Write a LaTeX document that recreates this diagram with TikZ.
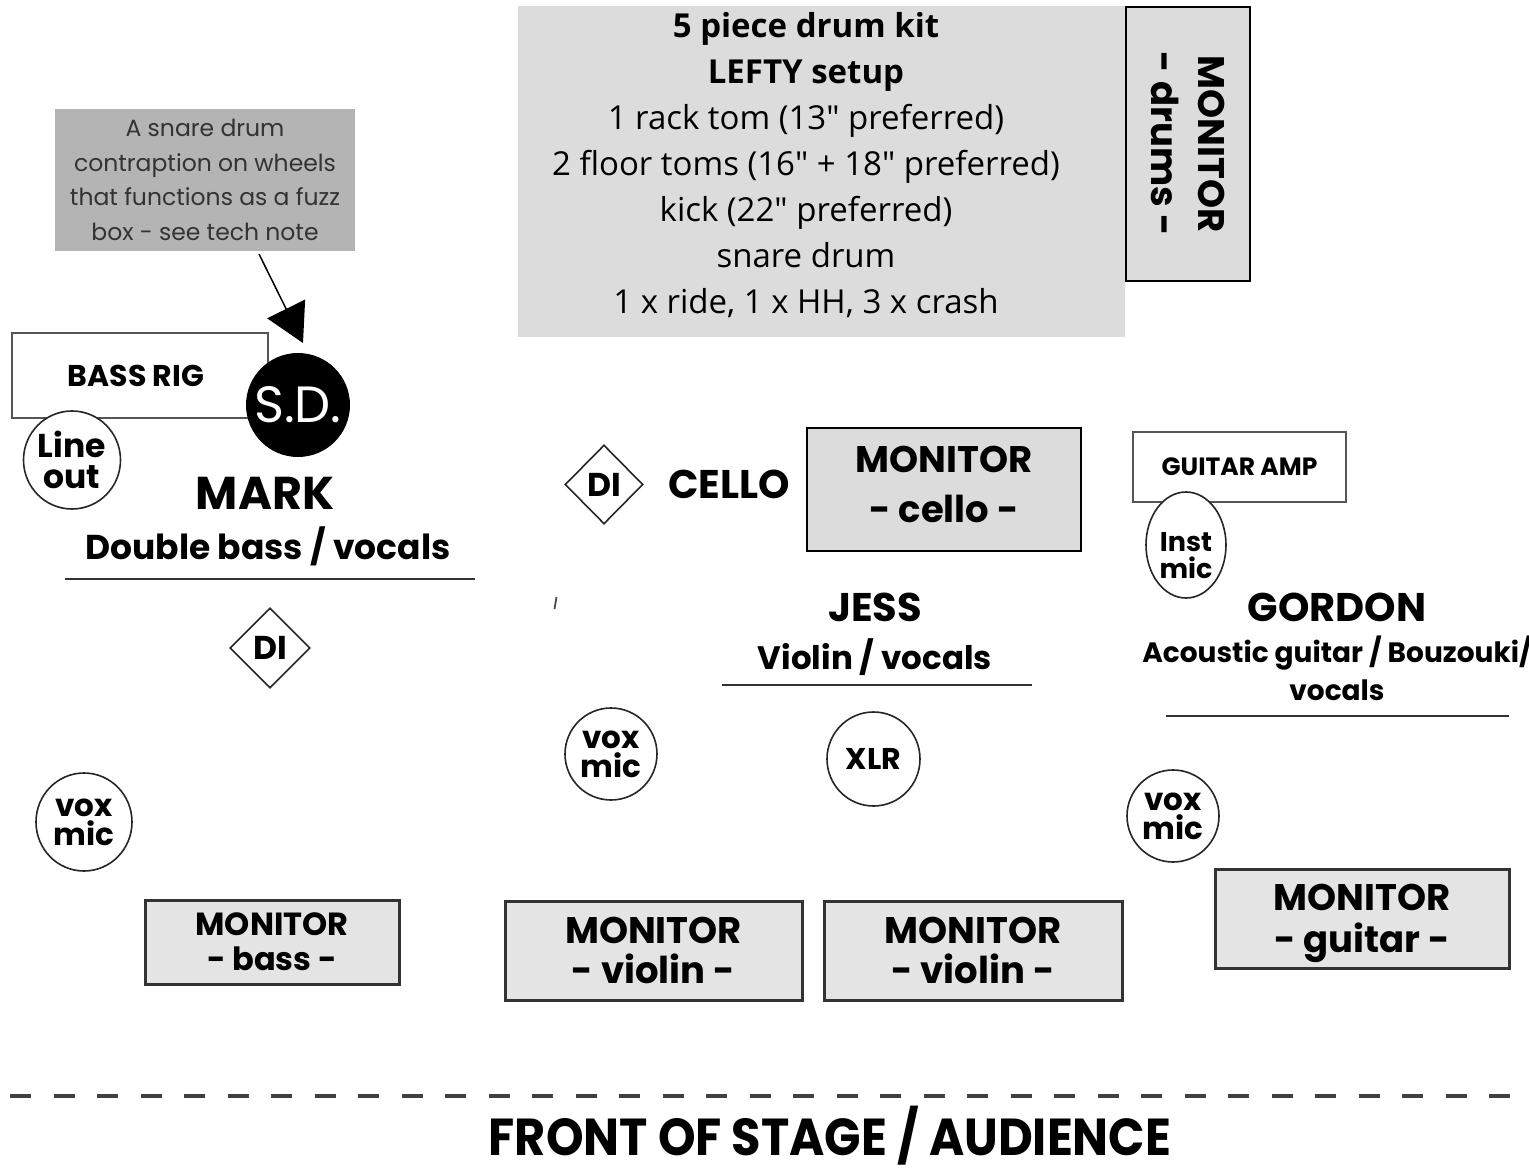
\documentclass[tikz,border=0pt]{standalone}
\usepackage{fontspec}
\setmainfont{Open Sans}[Ligatures=TeXOff]
\newfontfamily\geo{Poppins}
\newfontfamily\condf{Poppins}[FakeStretch=0.92]
\usetikzlibrary{arrows.meta,shapes.geometric}
\definecolor{boxgrey}{HTML}{DCDCDC}
\definecolor{notegrey}{HTML}{B4B4B4}
\definecolor{mongrey}{HTML}{E4E4E4}
\definecolor{edgegrey}{HTML}{555555}
\definecolor{darkline}{HTML}{333333}
\newcommand{\fsz}[2]{\fontsize{#1}{#2}\selectfont}
\tikzset{
  plainbox/.style={inner sep=0pt, align=center},
  monbox/.style={draw=darkline, line width=3pt, fill=mongrey, inner sep=0pt, align=center, text depth=0pt},
  rigbox/.style={draw=edgegrey, line width=2.5pt, fill=white, inner sep=0pt, align=center},
  micring/.style={ellipse, draw=black!85, line width=1.6pt, fill=white, inner sep=0pt, align=center},
  dibox/.style={diamond, draw=black!85, line width=1.6pt, fill=white, inner sep=0pt, minimum width=80pt, minimum height=80pt, font=\geo\bfseries\fsz{33}{36}},
  nameline/.style={line width=2.5pt, draw=darkline},
}
\begin{document}
\begin{tikzpicture}[x=1pt,y=-1pt]
\useasboundingbox[fill=white] (0,0) rectangle (1529,1174);

% drum kit
\node[fill=boxgrey, minimum width=607pt, minimum height=331pt, inner sep=0pt] (kit) at (821.5,171.5) {};
\node[plainbox, font=\fsz{33}{46}] (kittext) at (806,165) {\textbf{5 piece drum kit}\\\textbf{LEFTY setup}\\1 rack tom (13" preferred)\\2 floor toms (16" + 18" preferred)\\kick (22" preferred)\\snare drum\\1 x ride, 1 x HH, 3 x crash};
\node[draw=black, line width=2pt, fill=boxgrey, rotate=-90, minimum width=274pt, minimum height=124pt, inner sep=0pt, align=center, font=\geo\bfseries\fsz{37}{47}] (mondrums) at (1188,144) {MONITOR\\- drums -};

% callout
\node[fill=notegrey, minimum width=300pt, minimum height=142pt, inner sep=0pt, align=center, text=darkline, font=\geo\fsz{23.5}{34.5}] (note) at (205,180) {A snare drum\\contraption on wheels\\that functions as a fuzz\\box - see tech note};

% bass rig area
\node[rigbox, minimum width=256pt, minimum height=85pt, font=\geo\bfseries\fsz{30}{34}] (bassrig) at (140,375.5) {\hspace*{-8pt}BASS RIG};
\node[circle, fill=black, minimum size=104pt, inner sep=0pt, text=white, font=\geo\fsz{51}{54}] (sd) at (298,405) {S.D.};
\coordinate (arrstart) at (259,254);
\coordinate (arrtip) at (303,343);
\draw[line width=1.5pt, -{Triangle[length=38pt,width=42pt]}] (arrstart) -- (arrtip);
\node[micring, minimum width=97pt, minimum height=98pt, font=\geo\bfseries\fsz{33}{31}] (lineout) at (72,460) {Line\\out};

\node[plainbox, font=\geo\bfseries\fsz{46}{50}] (mark) at (265,493) {MARK};
\node[plainbox, font=\geo\bfseries\fsz{34.5}{36}] (markrole) at (268,546) {Double bass / vocals};
\coordinate (ml1) at (65,579); \coordinate (ml2) at (475,579);
\draw[nameline] (ml1) -- (ml2);
\node[dibox] (di1) at (270,648) {DI};

% cello / jess
\node[dibox, minimum width=78pt, minimum height=79pt] (di2) at (604,484.5) {DI};
\node[plainbox, font=\geo\bfseries\fsz{40}{44}] (cello) at (729,484) {CELLO};
\node[draw=black, line width=2pt, fill=boxgrey, minimum width=274pt, minimum height=123pt, inner sep=0pt] (moncello) at (944,489.5) {};
\node[plainbox, font=\geo\bfseries\fsz{37}{50}] (moncellotext) at (944,484) {MONITOR\\- cello -};
\coordinate (tk1) at (556.5,597); \coordinate (tk2) at (554.5,609);
\draw[line width=1.8pt, black!70] (tk1) -- (tk2);

\node[plainbox, font=\geo\bfseries\fsz{40}{44}] (jess) at (875,607) {JESS};
\node[plainbox, font=\geo\bfseries\fsz{32.5}{34}] (jessrole) at (875,657) {Violin / vocals};
\coordinate (jl1) at (722,685); \coordinate (jl2) at (1032,685);
\draw[nameline] (jl1) -- (jl2);

% gordon
\node[rigbox, minimum width=213pt, minimum height=70pt, font=\geo\bfseries\fsz{25}{28}] (gamp) at (1239.5,467) {GUITAR AMP};
\node[micring, minimum width=80pt, minimum height=106pt] (instmic) at (1186,545) {};
\node[plainbox, font=\geo\bfseries\fsz{27}{27}] (instmictext) at (1186,556) {Inst\\mic};
\node[plainbox, font=\geo\bfseries\fsz{40}{44}] (gordon) at (1337,607) {GORDON};
\node[plainbox, font=\geo\bfseries\fsz{28}{38}] (gordonrole) at (1337,668) {Acoustic guitar / Bouzouki/\\vocals};
\coordinate (gl1) at (1166,716); \coordinate (gl2) at (1509,716);
\draw[nameline] (gl1) -- (gl2);

% mics
\node[micring, minimum width=96pt, minimum height=98pt, font=\geo\bfseries\fsz{31}{29}] (voxmark) at (84,822) {vox\\mic};
\node[micring, minimum width=92pt, minimum height=92pt, font=\geo\bfseries\fsz{31}{29}] (voxjess) at (611,754) {vox\\mic};
\node[micring, minimum width=93pt, minimum height=94pt, font=\geo\bfseries\fsz{30}{32}] (xlr) at (873.5,759) {XLR};
\node[micring, minimum width=92pt, minimum height=92pt, font=\geo\bfseries\fsz{31}{29}] (voxgordon) at (1173,816) {vox\\mic};

% floor monitors
\node[monbox, minimum width=254pt, minimum height=84pt, font=\geo\bfseries\fsz{32}{35}] (monbass) at (272,942) {MONITOR\\- bass -};
\node[monbox, minimum width=297pt, minimum height=99pt, font=\geo\bfseries\fsz{37}{40}] (monviolin1) at (653.5,950.5) {MONITOR\\- violin -};
\node[monbox, minimum width=298pt, minimum height=99pt, font=\geo\bfseries\fsz{37}{40}] (monviolin2) at (973,950.5) {MONITOR\\- violin -};
\node[monbox, minimum width=294pt, minimum height=99pt, font=\geo\bfseries\fsz{37}{42}] (monguitar) at (1362,918.5) {MONITOR\\- guitar -};

% front of stage
\coordinate (fs1) at (10,1096); \coordinate (fs2) at (1522,1096);
\draw[line width=3.5pt, black!75, dash pattern=on 21pt off 22.5pt] (fs1) -- (fs2);
\node[plainbox, anchor=base, font=\condf\bfseries\fsz{52}{54}] (front) at (830,1155) {FRONT OF STAGE / AUDIENCE};
\end{tikzpicture}
\end{document}
